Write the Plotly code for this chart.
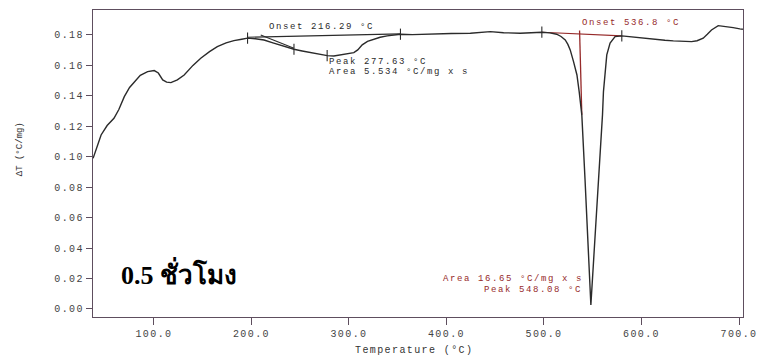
import plotly.graph_objects as go

# DTA trace: temperature (°C) and ΔT (°C/mg)
temperature = [37.6, 45.8, 52.0, 59.0, 64.0, 69.6, 75.0, 79.8, 86.0, 93.5, 100.3, 104.5, 109.0, 113.0,
               117.4, 124.0, 131.0, 140.0, 148.0, 157.0, 165.0, 174.0, 182.0, 190.0, 196.0, 204.0,
               212.9, 222.0, 232.0, 243.6, 252.0, 260.7, 269.0, 277.8, 284.5, 292.0, 300.0, 305.0,
               309.0, 313.6, 319.0, 325.5, 332.0, 339.2, 346.0, 352.8, 365.0, 378.0, 390.0, 405.0,
               424.5, 435.0, 445.0, 458.6, 466.0, 475.6, 487.0, 497.8, 506.0, 513.0, 517.5, 521.8,
               524.5, 526.9, 530.3, 533.8, 536.1, 538.8, 542.1, 545.0, 548.08, 551.0, 553.5, 556.1,
               558.2, 560.0, 561.0, 562.7, 564.4, 567.8, 572.9, 579.8, 589.0, 598.5, 607.0, 615.6,
               624.0, 632.7, 642.0, 651.4, 657.0, 663.3, 667.5, 671.8, 678.7, 687.3, 694.0, 700.9,
               704.0]
delta_t = [0.0990, 0.1143, 0.1205, 0.1253, 0.1310, 0.1395, 0.1455, 0.1493, 0.1535, 0.1559, 0.1566,
           0.1550, 0.1505, 0.1490, 0.1487, 0.1505, 0.1537, 0.1600, 0.1647, 0.1690, 0.1723, 0.1748,
           0.1763, 0.1772, 0.1779, 0.1775, 0.1767, 0.1748, 0.1728, 0.1706, 0.1695, 0.1684, 0.1674,
           0.1664, 0.1662, 0.1670, 0.1678, 0.1684, 0.1702, 0.1735, 0.1758, 0.1772, 0.1785, 0.1794,
           0.1800, 0.1805, 0.1802, 0.1806, 0.1805, 0.1810, 0.1811, 0.1818, 0.1822, 0.1815, 0.1812,
           0.1811, 0.1815, 0.1818, 0.1814, 0.1805, 0.1790, 0.1767, 0.1738, 0.1702, 0.1625, 0.1537,
           0.1428, 0.1275, 0.0850, 0.0480, 0.0026, 0.0330, 0.0580, 0.0850, 0.1090, 0.1275, 0.1428,
           0.1581, 0.1669, 0.1746, 0.1789, 0.1794, 0.1788, 0.1779, 0.1772, 0.1767, 0.1765, 0.1761,
           0.1760, 0.1756, 0.1762, 0.1779, 0.1805, 0.1833, 0.1861, 0.1855, 0.1848, 0.1840, 0.1838]

# Evaluation marks on the curve
mark_t = [196.0, 243.6, 277.63, 352.8, 497.8, 579.8]
mark_dt = [0.1779, 0.1706, 0.1664, 0.1805, 0.1818, 0.1794]

# Baselines and tangents of the two evaluated events
base1_t = [196.0, 352.8]
base1_dt = [0.1785, 0.1807]
tangent1_t = [209.5, 243.6]
tangent1_dt = [0.1800, 0.1713]
base2_t = [497.8, 579.8]
base2_dt = [0.1818, 0.1794]
tangent2_t = [536.5, 538.8]
tangent2_dt = [0.1830, 0.1275]

x_ticks = [100, 200, 300, 400, 500, 600, 700]
y_ticks = [0.00, 0.02, 0.04, 0.06, 0.08, 0.10, 0.12, 0.14, 0.16, 0.18]

INK = "#2b2b2b"
RED = "#962a2a"
FRAME = "#5e4e5e"
MONO = "Liberation Mono, DejaVu Sans Mono, monospace"


def spaced(s, sp=1.6):
    return f'<span style="letter-spacing:{sp}px">{s}</span>'


fig = go.Figure()
fig.add_trace(go.Scatter(x=base1_t, y=base1_dt, mode="lines",
                         line=dict(color=INK, width=1.1), hoverinfo="skip"))
fig.add_trace(go.Scatter(x=tangent1_t, y=tangent1_dt, mode="lines",
                         line=dict(color=INK, width=1.1), hoverinfo="skip"))
fig.add_trace(go.Scatter(x=base2_t, y=base2_dt, mode="lines",
                         line=dict(color=RED, width=1.1), hoverinfo="skip"))
fig.add_trace(go.Scatter(x=tangent2_t, y=tangent2_dt, mode="lines",
                         line=dict(color=RED, width=1.3), hoverinfo="skip"))
fig.add_trace(go.Scatter(x=temperature, y=delta_t, mode="lines",
                         line=dict(color=INK, width=1.4), hoverinfo="skip"))
fig.add_trace(go.Scatter(x=mark_t, y=mark_dt, mode="markers",
                         marker=dict(symbol="line-ns", size=8,
                                     line=dict(color=INK, width=1.1)),
                         hoverinfo="skip"))

ann = []


def label(x, y, text, color=INK, anchor="left", size=9):
    ann.append(dict(x=x, y=y, xref="x", yref="y", text=spaced(text), showarrow=False,
                    xanchor=anchor, yanchor="middle",
                    font=dict(family=MONO, size=size, color=color)))


label(216.29, 0.1850, "Onset 216.29 °C")
label(277.63, 0.1623, "Peak 277.63 °C")
label(277.63, 0.1554, "Area 5.534 °C/mg x s")
label(536.8, 0.1880, "Onset 536.8 °C", color=RED)
label(542.5, 0.0194, "Area 16.65 °C/mg x s", color=RED, anchor="right")
label(541.0, 0.0125, "Peak 548.08 °C", color=RED, anchor="right")

ann.append(dict(x=-0.112, y=0.547, xref="paper", yref="paper", text="ΔT (°C/mg)",
                textangle=-90, showarrow=False, xanchor="center", yanchor="middle",
                font=dict(family=MONO, size=9, color="#333333")))
ann.append(dict(x=0.494, y=-0.108, xref="paper", yref="paper",
                text=spaced("Temperature (°C)", 1.4), showarrow=False,
                xanchor="center", yanchor="middle",
                font=dict(family=MONO, size=10, color="#333333")))
ann.append(dict(x=64.0, y=0.0235, xref="x", yref="y", text="<b>0.5 ชั่วโมง</b>",
                showarrow=False, xanchor="left", yanchor="middle",
                font=dict(family="Liberation Serif, Times New Roman, serif", size=26,
                          color="#000000")))

fig.update_layout(
    width=757, height=360,
    margin=dict(l=93, r=14, t=10, b=43, autoexpand=False),
    paper_bgcolor="white", plot_bgcolor="white",
    showlegend=False,
    annotations=ann,
    xaxis=dict(range=[37.5, 704.1], showgrid=False, zeroline=False, automargin=False,
               showline=True, mirror=True, linecolor=FRAME, linewidth=1.3,
               ticks="outside", ticklen=7, tickcolor=FRAME, tickwidth=1.2,
               ticklabeloverflow="allow",
               tickvals=x_ticks, ticktext=[spaced(f"{v:.1f}", 1.4) for v in x_ticks],
               tickfont=dict(family=MONO, size=10, color="#444444")),
    yaxis=dict(range=[-0.0053, 0.1964], showgrid=False, zeroline=False, automargin=False,
               showline=True, mirror=True, linecolor=FRAME, linewidth=1.3,
               ticks="outside", ticklen=6, tickcolor=FRAME, tickwidth=1.2,
               ticklabeloverflow="allow",
               tickvals=y_ticks, ticktext=[spaced(f"{v:.2f}", 1.4) for v in y_ticks],
               tickfont=dict(family=MONO, size=10, color="#444444")),
)

fig.write_html("out.html")
